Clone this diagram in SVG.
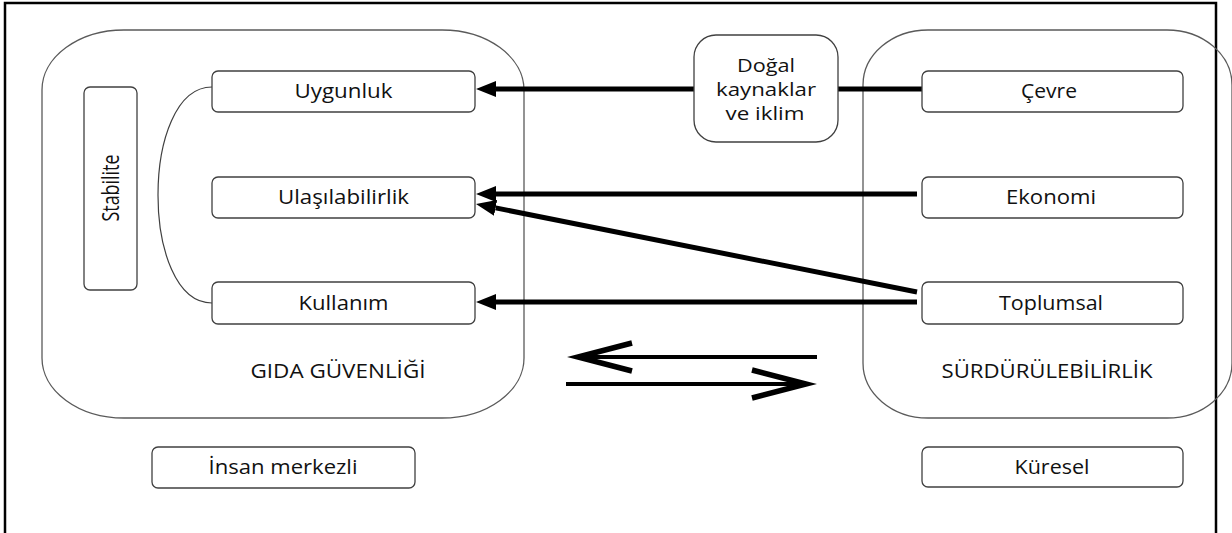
<svg xmlns="http://www.w3.org/2000/svg" width="1232" height="533" viewBox="0 0 1232 533">
  <defs>
    <style>
      .frame { fill: none; stroke: #000; stroke-width: 2.5; }
      .big { fill: none; stroke: #5a5a5a; stroke-width: 1.3; }
      .box { fill: #fff; stroke: #404040; stroke-width: 1.3; }
      .lbl { font-family: "Open Sans", "Liberation Sans", sans-serif; font-size: 20px; fill: #111; text-anchor: middle; }
      .lbl-sm { font-size: 17.5px; }
      .lbl-v { font-size: 24px; }
      .conn { fill: none; stroke: #000; stroke-width: 5; }
      .dbl { fill: none; stroke: #000; stroke-width: 4; }
      .bracket { fill: none; stroke: #404040; stroke-width: 1.2; }
    </style>
    <marker id="ah" markerUnits="userSpaceOnUse" markerWidth="20" markerHeight="16" viewBox="0 0 20 16" refX="0" refY="8" orient="auto">
      <path d="M0,0 L20,8 L0,16 Z" fill="#000"/>
    </marker>
    <marker id="chev" markerUnits="userSpaceOnUse" markerWidth="90" markerHeight="50" viewBox="-80 -25 90 50" refX="-8" refY="0" orient="auto" overflow="visible">
      <path d="M-64,-14 L-10,0 L-64,14" fill="none" stroke="#000" stroke-width="5.5" stroke-linejoin="miter" stroke-miterlimit="10"/>
    </marker>
  </defs>

  <rect x="0" y="0" width="1232" height="533" fill="#fff"/>
  <path class="frame" d="M5,533 V3 H1216 V533"/>

  <g id="gida-guvenligi">
    <rect class="big" x="42" y="30" width="482" height="388" rx="82" ry="60"/>
    <text class="lbl" x="338" y="378" textLength="175" lengthAdjust="spacingAndGlyphs">GIDA GÜVENLİĞİ</text>
  </g>

  <g id="surdurulebilirlik">
    <rect class="big" x="863" y="30" width="369" height="388" rx="65" ry="55"/>
    <text class="lbl" x="1047" y="378" textLength="211" lengthAdjust="spacingAndGlyphs">SÜRDÜRÜLEBİLİRLİK</text>
  </g>

  <g id="connectors">
    <path class="bracket" d="M212,87 C140,87 140,303 212,303"/>
    <line class="conn" x1="838" y1="89" x2="922" y2="89"/>
    <line class="conn" x1="694" y1="89" x2="496" y2="89" marker-end="url(#ah)"/>
    <line class="conn" x1="917" y1="194" x2="496" y2="194" marker-end="url(#ah)"/>
    <line class="conn" x1="917" y1="292" x2="495.6" y2="207.9" marker-end="url(#ah)"/>
    <line class="conn" x1="917" y1="302" x2="496" y2="302" marker-end="url(#ah)"/>
    <line class="dbl" x1="817" y1="357" x2="576" y2="357" marker-end="url(#chev)"/>
    <line class="dbl" x1="566" y1="384" x2="808" y2="384" marker-end="url(#chev)"/>
  </g>

  <g id="stabilite">
    <rect class="box" x="84" y="87" width="53" height="203" rx="6"/>
    <text class="lbl lbl-v" transform="translate(119,188) rotate(-90)" x="0" y="0" textLength="67" lengthAdjust="spacingAndGlyphs">Stabilite</text>
  </g>

  <g id="uygunluk">
    <rect class="box" x="212" y="71" width="263" height="41" rx="6"/>
    <text class="lbl" x="343.5" y="98" textLength="98" lengthAdjust="spacingAndGlyphs">Uygunluk</text>
  </g>

  <g id="ulasilabilirlik">
    <rect class="box" x="212" y="177" width="263" height="41" rx="6"/>
    <text class="lbl" x="343.5" y="204" textLength="131" lengthAdjust="spacingAndGlyphs">Ulaşılabilirlik</text>
  </g>

  <g id="kullanim">
    <rect class="box" x="212" y="282" width="263" height="42" rx="6"/>
    <text class="lbl" x="343.5" y="310" textLength="90" lengthAdjust="spacingAndGlyphs">Kullanım</text>
  </g>

  <g id="dogal-kaynaklar">
    <rect class="box" x="694" y="35" width="144" height="107" rx="22"/>
    <text class="lbl lbl-sm" x="766" y="72" textLength="58" lengthAdjust="spacingAndGlyphs">Doğal</text>
    <text class="lbl lbl-sm" x="766" y="96" textLength="100" lengthAdjust="spacingAndGlyphs">kaynaklar</text>
    <text class="lbl lbl-sm" x="765" y="120" textLength="79" lengthAdjust="spacingAndGlyphs">ve iklim</text>
  </g>

  <g id="cevre">
    <rect class="box" x="922" y="71" width="261" height="41" rx="6"/>
    <text class="lbl" x="1049" y="98" textLength="56" lengthAdjust="spacingAndGlyphs">Çevre</text>
  </g>

  <g id="ekonomi">
    <rect class="box" x="922" y="177" width="261" height="41" rx="6"/>
    <text class="lbl" x="1051" y="204" textLength="90" lengthAdjust="spacingAndGlyphs">Ekonomi</text>
  </g>

  <g id="toplumsal">
    <rect class="box" x="922" y="282" width="261" height="42" rx="6"/>
    <text class="lbl" x="1051" y="310" textLength="104" lengthAdjust="spacingAndGlyphs">Toplumsal</text>
  </g>

  <g id="insan-merkezli">
    <rect class="box" x="152" y="447" width="263" height="41" rx="6"/>
    <text class="lbl" x="283" y="474" textLength="149" lengthAdjust="spacingAndGlyphs">İnsan merkezli</text>
  </g>

  <g id="kuresel">
    <rect class="box" x="922" y="447" width="261" height="40" rx="6"/>
    <text class="lbl" x="1052" y="474" textLength="75" lengthAdjust="spacingAndGlyphs">Küresel</text>
  </g>
</svg>
